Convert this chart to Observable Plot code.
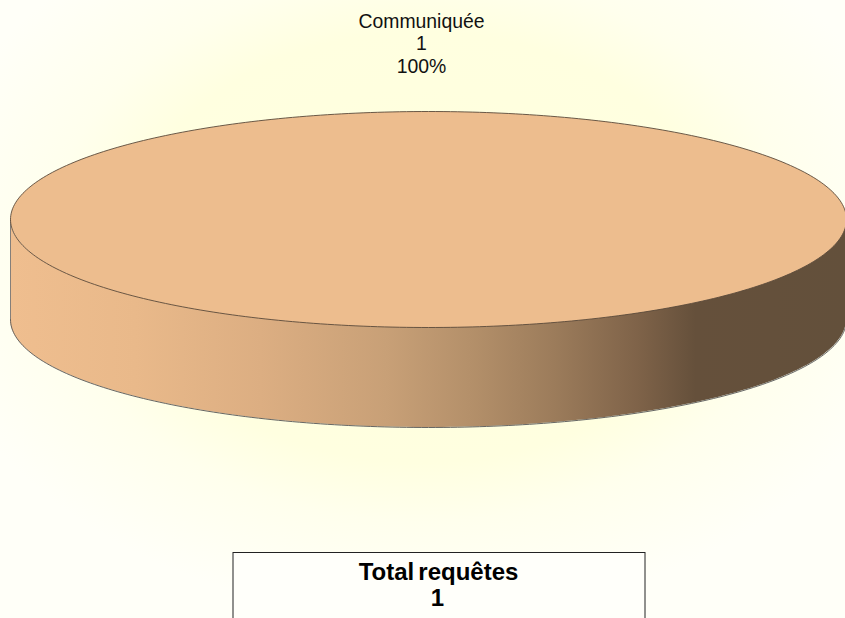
<!DOCTYPE html>
<html><head><meta charset="utf-8">
<script src="https://cdn.jsdelivr.net/npm/d3@7"></script>
<script src="https://cdn.jsdelivr.net/npm/@observablehq/plot@0.6"></script>
<style>
html,body{margin:0;padding:0;background:#fffff6;overflow:hidden}
svg{display:block}
</style></head><body><div id="c"></div>
<script>
const categories = ["Communiquée"];
const values = [1];
const percentLabels = ["100%"];
const totalLabel = "Total requêtes";
const totalValue = [1];
const sliceColors = ["#edbd8e"];

const W = 845, H = 618;
const cx = 428, cy = 219, rx = 418, ry = 108, depth = 100;
const total = d3.sum(values);
const N = 360;
const turns = d3.range(N + 1).map(i => i / N * (values[0] / total));
const pts = turns.map(t => ({x: cx + rx * Math.cos(2 * Math.PI * t), y: cy + ry * Math.sin(2 * Math.PI * t)}));
const front = turns.filter(t => t <= 0.5).map(t => {
  const x = cx + rx * Math.cos(2 * Math.PI * t), y = cy + ry * Math.sin(2 * Math.PI * t);
  return {x, y1: y, y2: y + depth};
});

const shade = [[0,"#efbe8f"],[0.15,"#e9b98a"],[0.3,"#dcae82"],[0.45,"#c8a077"],[0.55,"#b4906a"],[0.65,"#9c7c5b"],[0.75,"#7f6349"],[0.82,"#65503b"],[1,"#63503b"]];
const defs = () => {
  const s = d3.create("svg:defs");
  const g = s.append("linearGradient").attr("id","side").attr("gradientUnits","userSpaceOnUse")
    .attr("x1",cx-rx).attr("x2",cx+rx).attr("y1",0).attr("y2",0);
  shade.forEach(([o,c]) => g.append("stop").attr("offset",o).attr("stop-color",c));
  const b = s.append("radialGradient").attr("id","bg").attr("cx","50%").attr("cy","40%").attr("r","60%");
  [[0,"#ffffdc"],[0.58,"#ffffe0"],[0.74,"#ffffed"],[1,"#fffff8"]].forEach(([o,c]) => b.append("stop").attr("offset",o).attr("stop-color",c));
  return s.node();
};
const font = "Liberation Sans, Arial, sans-serif";
const chart = Plot.plot({
  width: W, height: H, margin: 0,
  x: {domain:[0,W], range:[0,W], axis:null},
  y: {domain:[0,H], range:[0,H], axis:null},
  style: {background:"transparent", fontFamily: font},
  marks: [
    defs,
    Plot.rect([0],{x1:0,x2:W,y1:0,y2:H,fill:"url(#bg)"}),
    Plot.areaY(front,{x:"x",y1:"y1",y2:"y2",fill:"url(#side)",stroke:null}),
    Plot.line(front,{x:"x",y:"y2",stroke:"#555",strokeWidth:0.9}),
    Plot.ruleX([cx-rx],{y1:cy,y2:cy+depth,stroke:"#777",strokeWidth:0.9}),
    Plot.ruleX([cx+rx],{y1:cy,y2:cy+depth,stroke:"#444",strokeWidth:0.9}),
    Plot.line(pts,{x:"x",y:"y",fill:sliceColors[0],stroke:"#5a4a3a",strokeWidth:0.9}),
    Plot.text([categories[0]],{x:421,y:21,text:d=>d,fontSize:19.4,fill:"#111"}),
    Plot.text([values[0]],{x:421,y:43,text:d=>String(d),fontSize:19.4,fill:"#111"}),
    Plot.text(percentLabels,{x:421,y:66,text:d=>d,fontSize:19.4,fill:"#111"}),
    Plot.rect([0],{x1:233,x2:645,y1:552.5,y2:H+5,fill:"#fffffa",stroke:"#222",strokeWidth:1}),
    Plot.text([totalLabel],{x:438,y:572,text:d=>d,fontSize:24,fontWeight:"bold",fill:"#000"}),
    Plot.text(totalValue,{x:437,y:598,text:d=>String(d),fontSize:24,fontWeight:"bold",fill:"#000"})
  ]
});
chart.querySelectorAll("text").forEach(t => { if (t.textContent.startsWith("Total")) t.style.wordSpacing = "-2.5px"; });
document.getElementById("c").append(chart);
</script></body></html>
